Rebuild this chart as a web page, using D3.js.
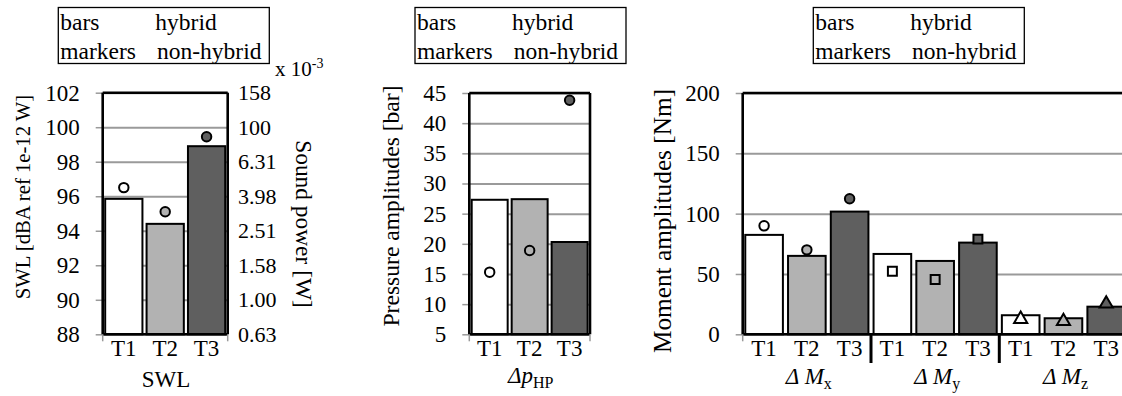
<!DOCTYPE html>
<html>
<head>
<meta charset="utf-8">
<script src="https://cdn.jsdelivr.net/npm/d3@7"></script>
<style>
  html, body { margin: 0; padding: 0; background: #fff; }
  svg { display: block; }
  text { font-family: "Liberation Serif", "Times New Roman", serif; fill: #000; }
</style>
</head>
<body>
<svg id="chart" width="1122" height="396"></svg>
<script>
// ---- data ----
const trials = ["T1", "T2", "T3"];
const trialFills = ["#ffffff", "#b2b2b2", "#5f5f5f"];

const swlHybrid = [95.85, 94.4, 98.9];
const swlNonHybrid = [96.5, 95.1, 99.45];
const swlTicks = [88, 90, 92, 94, 96, 98, 100, 102];
const powerTickLabels = ["0.63", "1.00", "1.58", "2.51", "3.98", "6.31", "100", "158"];

const pressureHybrid = [27.3, 27.4, 20.3];
const pressureNonHybrid = [15.3, 18.9, 43.8];
const pressureTicks = [5, 10, 15, 20, 25, 30, 35, 40, 45];

const momentGroups = ["x", "y", "z"];
const momentHybrid = [[82.4, 65, 101.7], [66.6, 60.8, 76], [15.8, 13.3, 22.9]];
const momentNonHybrid = [[89.9, 70, 112.3], [52.2, 45.4, 78.9], [12.6, 10.8, 25.3]];
const momentMarkers = ["circle", "square", "triangle"];
const momentTicks = [0, 50, 100, 150, 200];

const legendRows = [["bars", "hybrid"], ["markers", "non-hybrid"]];

// ---- helpers ----
const svg = d3.select("#chart");
const GRID = "#9a9a9a";
const FONT = 23;

function legend(x) {
  const g = svg.append("g").attr("transform", `translate(${x},7.5)`);
  g.append("rect").attr("width", 211).attr("height", 56)
    .attr("fill", "#fff").attr("stroke", "#000").attr("stroke-width", 1.3);
  legendRows.forEach((row, i) => {
    g.append("text").attr("x", 2).attr("y", 22.5 + i * 28.5).attr("font-size", 23.5).text(row[0]);
    g.append("text").attr("x", 97 + i * 1.7).attr("y", 22.5 + i * 28.5).attr("font-size", 23.5).text(row[1]);
  });
}

function yAxis(y, ticks, x0, x1) {
  // gridlines
  svg.append("g").attr("transform", `translate(${x0},0)`)
    .call(d3.axisLeft(y).tickValues(ticks).tickSize(-(x1 - x0)).tickFormat(""))
    .call(g => g.select(".domain").remove())
    .call(g => g.selectAll("line").attr("stroke", GRID).attr("stroke-width", 2));
  // tick marks and labels
  svg.append("g").attr("transform", `translate(${x0},0)`)
    .call(d3.axisLeft(y).tickValues(ticks).tickSize(7).tickPadding(16))
    .call(g => g.select(".domain").remove())
    .call(g => g.selectAll("line").attr("stroke", GRID).attr("stroke-width", 1.5))
    .call(g => g.selectAll("text").attr("font-size", FONT)
      .attr("font-family", "Liberation Serif, Times New Roman, serif").attr("fill", "#000"));
}

function frame(x0, x1, yTop, yBot, right) {
  const f = svg.append("g").attr("stroke", "#000").attr("stroke-width", 2.6).attr("fill", "none");
  f.append("line").attr("x1", x0).attr("x2", x1).attr("y1", yTop).attr("y2", yTop);
  f.append("line").attr("x1", x0).attr("x2", x1).attr("y1", yBot).attr("y2", yBot);
  f.append("line").attr("x1", x0).attr("x2", x0).attr("y1", yTop).attr("y2", yBot);
  if (right) f.append("line").attr("x1", x1).attr("x2", x1).attr("y1", yTop).attr("y2", yBot);
}

function edgeTicks(xs, yBot) {
  xs.forEach(x => svg.append("line").attr("x1", x).attr("x2", x)
    .attr("y1", yBot).attr("y2", yBot + 7).attr("stroke", GRID).attr("stroke-width", 1.5));
}

function bars(xBand, y, values, yBot, offset) {
  svg.append("g").selectAll("rect").data(values).join("rect")
    .attr("x", (d, i) => offset + xBand(trials[i]))
    .attr("width", xBand.bandwidth())
    .attr("y", d => y(d))
    .attr("height", d => yBot - y(d))
    .attr("fill", (d, i) => trialFills[i])
    .attr("stroke", "#000").attr("stroke-width", 2);
}

function markers(xBand, y, values, shape, offset) {
  const sym = { circle: d3.symbolCircle, square: d3.symbolSquare, triangle: d3.symbolTriangle }[shape];
  const size = { circle: 70, square: 80, triangle: 75 }[shape];
  svg.append("g").selectAll("path").data(values).join("path")
    .attr("transform", (d, i) => `translate(${offset + xBand(trials[i]) + xBand.bandwidth() / 2},${y(d)})`)
    .attr("d", d3.symbol(sym, size)())
    .attr("fill", (d, i) => trialFills[i])
    .attr("stroke", "#000").attr("stroke-width", 2);
}

function xTickLabels(xBand, offset, yBase) {
  svg.append("g").selectAll("text").data(trials).join("text")
    .attr("x", d => offset + xBand(d) + xBand.bandwidth() / 2)
    .attr("y", yBase).attr("text-anchor", "middle").attr("font-size", FONT).text(d => d);
}

function yTitle(text, cx, cy, size) {
  svg.append("text").attr("transform", `translate(${cx},${cy}) rotate(-90)`)
    .attr("text-anchor", "middle").attr("dy", "0.35em").attr("font-size", size).text(text);
}

const TOP = 93, BOT = 334.3, TICK_BASE = 355.5;

// ---- panel 1: sound power level ----
{
  const x0 = 102.7, x1 = 227.7;
  const y = d3.scaleLinear().domain([88, 102]).range([BOT, 92.7]);
  const x = d3.scaleBand().domain(trials).range([x0, x1]).paddingInner(0.1).paddingOuter(0.06);
  legend(58.3);
  yAxis(y, swlTicks, x0, x1);
  bars(x, y, swlHybrid, BOT, 0);
  markers(x, y, swlNonHybrid, "circle", 0);
  frame(x0, x1, y(102), BOT, true);
  edgeTicks([x0, x1], BOT);
  xTickLabels(x, 0, TICK_BASE);
  // secondary axis: sound power in W (x 10^-3)
  svg.append("g").selectAll("text").data(swlTicks).join("text")
    .attr("x", 238).attr("y", d => y(d)).attr("dy", "0.35em")
    .attr("font-size", 22).text((d, i) => powerTickLabels[i]);
  const exp = svg.append("text").attr("x", 275).attr("y", 76).attr("font-size", 21);
  exp.append("tspan").text("x 10");
  exp.append("tspan").attr("dy", -8).attr("font-size", 14).text("-3");
  svg.append("text").attr("transform", `translate(304,224) rotate(90)`)
    .attr("text-anchor", "middle").attr("dy", "0.35em").attr("font-size", 23.4).text("Sound power [W]");
  yTitle("SWL [dBA ref 1e-12 W]", 23, 197, 20.7);
  svg.append("text").attr("x", 166).attr("y", 387).attr("text-anchor", "middle")
    .attr("font-size", FONT).text("SWL");
}

// ---- panel 2: pressure amplitudes ----
{
  const x0 = 469.3, x1 = 590;
  const y = d3.scaleLinear().domain([5, 45]).range([BOT, TOP]);
  const x = d3.scaleBand().domain(trials).range([x0, x1]).paddingInner(0.1).paddingOuter(0.06);
  legend(415);
  yAxis(y, pressureTicks, x0, x1);
  bars(x, y, pressureHybrid, BOT, 0);
  markers(x, y, pressureNonHybrid, "circle", 0);
  frame(x0, x1, TOP, BOT, true);
  edgeTicks([x0, x1], BOT);
  xTickLabels(x, 0, TICK_BASE);
  yTitle("Pressure amplitudes [bar]", 391, 206, 23.6);
  const t = svg.append("text").attr("x", (x0 + x1) / 2 + 1).attr("y", 383)
    .attr("text-anchor", "middle").attr("font-size", FONT);
  t.append("tspan").attr("font-style", "italic").text("Δp");
  t.append("tspan").attr("dy", 5).attr("font-size", 16).text("HP");
}

// ---- panel 3: moment amplitudes ----
{
  const x0 = 742.7, groupW = 128.3;
  const x1 = x0 + groupW * momentGroups.length;
  const y = d3.scaleLinear().domain([0, 200]).range([BOT, TOP]);
  const gx = d3.scaleBand().domain(momentGroups).range([x0, x1]);
  const x = d3.scaleBand().domain(trials).range([0, gx.bandwidth()]).paddingInner(0.12).paddingOuter(0.06);
  legend(813.3);
  yAxis(y, momentTicks, x0, x1);
  momentGroups.forEach((g, gi) => {
    bars(x, y, momentHybrid[gi], BOT, gx(g));
    markers(x, y, momentNonHybrid[gi], momentMarkers[gi], gx(g));
    xTickLabels(x, gx(g), TICK_BASE);
    const t = svg.append("text").attr("x", gx(g) + gx.bandwidth() / 2 + 2).attr("y", 384)
      .attr("text-anchor", "middle").attr("font-size", FONT);
    t.append("tspan").attr("font-style", "italic").text("Δ M");
    t.append("tspan").attr("dy", 5).attr("font-size", 16).text(g);
  });
  frame(x0, x1, TOP, BOT, true);
  edgeTicks([x0], BOT);
  // group separators below the axis
  momentGroups.slice(1).forEach(g => svg.append("line")
    .attr("x1", gx(g)).attr("x2", gx(g)).attr("y1", BOT).attr("y2", 363)
    .attr("stroke", "#000").attr("stroke-width", 3));
  yTitle("Moment amplitudes [Nm]", 662, 221, 25.3);
}
</script>
</body>
</html>
